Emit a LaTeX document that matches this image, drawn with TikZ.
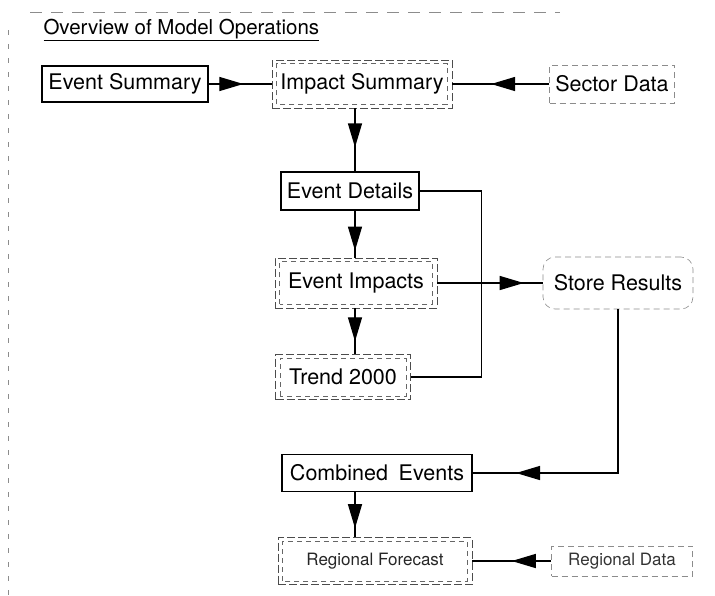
\documentclass[tikz,border=0pt]{standalone}
\usepackage{fontspec}
\setmainfont{TeX Gyre Heros}
\usetikzlibrary{positioning,calc,arrows.meta,decorations.markings}
\tikzstyle{solidbox} = [rectangle, draw=black, line width=1.5pt, inner sep=1pt, text centered, font=\fontsize{21.5}{24}\selectfont]
\tikzstyle{databox} = [rectangle, draw=black!45, dash pattern=on 6pt off 4pt, line width=0.6pt, inner sep=1pt, text centered, font=\fontsize{21.5}{24}\selectfont]
\tikzstyle{storebox} = [databox, rounded corners=12pt]
\tikzstyle{link} = [line width=1.3pt]
\tikzset{
  % dashed box with a second dashed outline just inside it
  dblbox/.style={
    rectangle, draw=black!70, dash pattern=on 8pt off 3pt, line width=0.7pt,
    inner sep=1pt, text centered, font=\fontsize{21.5}{24}\selectfont,
    append after command={\pgfextra{
      \draw[black!60, dash pattern=on 5pt off 4pt, line width=0.6pt]
        ($(\tikzlastnode.south west)+(5pt,4pt)$) rectangle ($(\tikzlastnode.north east)-(5pt,4pt)$);
    }}
  },
  midarrow/.style={
    postaction={decorate},
    decoration={markings, % big filled head part way along the line
      mark=at position #1 with {\arrow{Triangle[length=24pt,width=14pt]}}}
  }
}

\begin{document}
\begin{tikzpicture}[x=1pt, y=-1pt]
    \useasboundingbox (0,0) rectangle (715,595);
    % edges of the sheet
    \draw[black!45, dash pattern=on 5pt off 9pt] (8,30) -- (8,595);
    \draw[black!45, dash pattern=on 12pt off 9pt] (30,12) -- (560,12);
    \node (title)[anchor=west, font=\fontsize{20.5}{24}\selectfont] at (40,30) {\underline{Overview of Model Operations}};

    \coordinate (spine) at (355,0);
    \node (evsum)[solidbox, minimum width=166pt, minimum height=36pt] at (125,84) {Event Summary};
    \node (impsum)[dblbox, minimum width=180pt, minimum height=48pt] at (362,84) {Impact Summary};
    \node (sector)[databox, minimum width=125pt, minimum height=38pt] at (612,84) {Sector Data};
    \node (details)[solidbox, minimum width=138pt, minimum height=38pt] at (350,191) {Event Details};
    \node (impacts)[dblbox, minimum width=162pt, minimum height=50pt] at (356,283) {Event Impacts};
    \node (trend)[dblbox, minimum width=135pt, minimum height=45pt] at (343,377) {Trend 2000};
    \node (store)[storebox, minimum width=150pt, minimum height=52pt] at (618,283) {Store Results};
    \node (combined)[solidbox, minimum width=190pt, minimum height=37pt] at (377,473) {Combined\hspace{0.5em}Events};
    \node (forecast)[dblbox, minimum width=194pt, minimum height=47pt, font=\fontsize{17}{20}\selectfont, text=black!85] at (375,561) {Regional Forecast};
    \node (regdata)[databox, minimum width=141pt, minimum height=30pt, font=\fontsize{17}{20}\selectfont, text=black!80] at (622,561) {Regional Data};

    \draw[link, midarrow=0.55] (evsum.east) -- (impsum.west);
    \draw[link, midarrow=0.6] (sector.west) -- (impsum.east);
    \draw[link, midarrow=0.62] (impsum.south -| spine) -- (details.north -| spine);
    \draw[link, midarrow=0.85] (details.south -| spine) -- (impacts.north -| spine);
    \draw[link, midarrow=0.72] (impacts.south -| spine) -- (trend.north -| spine);
    \draw[link] (details.east) -- ($(details.east)+(62,0)$) |- (trend.east);
    \draw[link, midarrow=0.82] (impacts.east) -- (store.west);
    \draw[link, midarrow=0.86] (store.south) |- (combined.east);
    \draw[link, midarrow=0.8] (combined.south -| spine) -- (forecast.north -| spine);
    \draw[link, midarrow=0.5] (regdata.west) -- (forecast.east);
\end{tikzpicture}
\end{document}
